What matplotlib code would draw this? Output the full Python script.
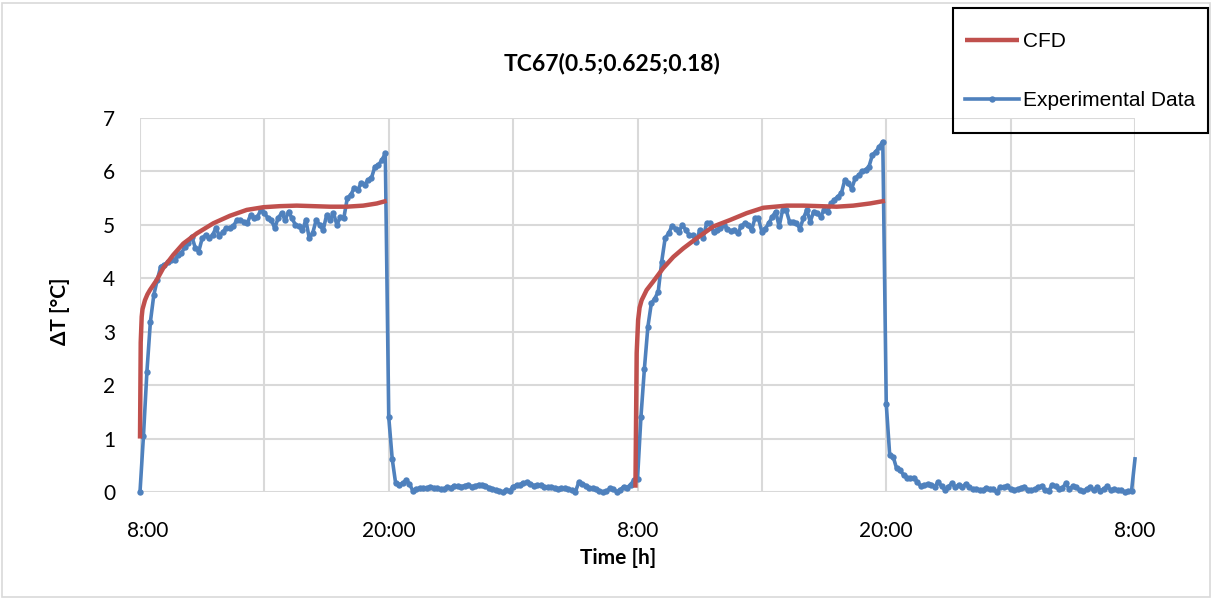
import numpy as np
import matplotlib
matplotlib.use("Agg")
import matplotlib.pyplot as plt
import matplotlib.transforms as mtransforms
from matplotlib.patches import Rectangle

# ---------------- data ----------------
title = "TC67(0.5;0.625;0.18)"
x_label = "Time [h]"
y_label = "ΔT [°C]"
x_ticks_h = [0, 6, 12, 18, 24, 30, 36, 42, 48]
x_tick_labels = ["8:00", "", "20:00", "", "8:00", "", "20:00", "", "8:00"]
y_ticks = [0, 1, 2, 3, 4, 5, 6, 7]

# experimental data, one value every 10 minutes from 8:00 on day 1
exp_day1 = [0.0, 1.05, 2.25, 3.18, 3.69, 3.97, 4.22, 4.25, 4.30, 4.34, 4.34, 4.43,
            4.47, 4.59, 4.66, 4.78, 4.57, 4.50, 4.75, 4.81, 4.75, 4.81, 4.94, 4.79,
            4.87, 4.94, 4.95, 4.97, 5.09, 5.09, 5.06, 5.03, 5.18, 5.13, 5.15, 5.28,
            5.22, 5.13, 5.09, 4.94, 5.13, 5.22, 5.09, 5.25, 5.12, 5.00, 4.97, 4.90,
            5.09, 4.75, 4.85, 5.09, 5.00, 4.90, 5.18, 5.09, 5.22, 5.00, 5.15, 5.13,
            5.50, 5.56, 5.69, 5.65, 5.78, 5.75, 5.84, 5.88, 6.09, 6.12, 6.21, 6.34]
exp_night1 = [1.40, 0.62, 0.16, 0.14, 0.16, 0.22, 0.15, 0.02, 0.06, 0.07, 0.08, 0.07,
              0.10, 0.08, 0.07, 0.05, 0.06, 0.09, 0.08, 0.12, 0.11, 0.10, 0.12, 0.13,
              0.10, 0.11, 0.14, 0.13, 0.12, 0.08, 0.06, 0.04, 0.02, 0.00, 0.03, 0.02,
              0.10, 0.13, 0.14, 0.17, 0.18, 0.15, 0.12, 0.13, 0.13, 0.10, 0.09, 0.10,
              0.08, 0.06, 0.07, 0.07, 0.05, 0.04, 0.00, 0.18, 0.15, 0.12, 0.08, 0.07,
              0.06, 0.02, 0.00, 0.01, 0.07, 0.06, 0.00, 0.04, 0.10, 0.08, 0.14, 0.22]
exp_day2 = [0.24, 1.41, 2.31, 3.09, 3.53, 3.62, 3.75, 4.31, 4.75, 4.84, 4.98, 4.93,
            4.87, 5.00, 4.90, 4.81, 4.81, 4.68, 4.90, 4.75, 5.03, 5.03, 4.87, 4.90,
            4.95, 5.00, 4.93, 4.88, 4.90, 4.84, 4.97, 5.03, 5.00, 4.90, 5.12, 5.12,
            4.87, 4.93, 5.03, 5.15, 5.25, 4.97, 5.28, 5.28, 5.06, 5.06, 5.03, 4.93,
            5.12, 5.28, 5.06, 5.25, 5.22, 5.15, 5.28, 5.25, 5.40, 5.47, 5.53, 5.59,
            5.84, 5.78, 5.68, 5.87, 5.93, 6.00, 6.03, 6.09, 6.31, 6.37, 6.46, 6.56]
exp_night2 = [1.65, 0.69, 0.66, 0.44, 0.41, 0.32, 0.27, 0.26, 0.27, 0.19, 0.11, 0.13,
              0.15, 0.14, 0.09, 0.19, 0.11, 0.04, 0.10, 0.16, 0.09, 0.13, 0.09, 0.15,
              0.09, 0.05, 0.05, 0.03, 0.03, 0.08, 0.05, 0.05, 0.00, 0.09, 0.09, 0.11,
              0.05, 0.04, 0.05, 0.08, 0.10, 0.03, 0.03, 0.05, 0.09, 0.11, 0.03, 0.02,
              0.13, 0.11, 0.05, 0.08, 0.16, 0.05, 0.11, 0.09, 0.03, 0.01, 0.05, 0.09,
              0.03, 0.09, 0.02, 0.06, 0.11, 0.03, 0.05, 0.04, 0.03, 0.00, 0.01, 0.02,
              0.62]
exp_step_h = 1.0 / 6.0

# CFD (hours since 8:00 day 1, value)
cfd1_t = [0.0, 0.034, 0.082, 0.12, 0.24, 0.36, 0.48, 0.81, 1.12, 1.61, 2.09, 2.74,
          3.54, 4.34, 5.15, 5.95, 6.75, 7.56, 8.36, 9.17, 9.97, 10.77, 11.42, 11.90]
cfd1_v = [1.00, 2.80, 3.28, 3.42, 3.59, 3.70, 3.78, 3.97, 4.19, 4.44, 4.65, 4.84,
          5.03, 5.17, 5.28, 5.33, 5.35, 5.36, 5.35, 5.34, 5.34, 5.36, 5.40, 5.45]
cfd2_t = [23.90, 23.93, 23.96, 24.03, 24.10, 24.20, 24.44, 24.76, 25.24, 25.73, 26.21,
          26.86, 27.66, 28.46, 29.27, 30.07, 31.20, 32.00, 32.80, 33.61, 34.41, 35.21, 35.94]
cfd2_v = [0.08, 1.35, 2.60, 3.22, 3.45, 3.59, 3.78, 3.94, 4.19, 4.40, 4.56,
          4.75, 4.97, 5.09, 5.22, 5.32, 5.36, 5.36, 5.35, 5.34, 5.36, 5.40, 5.45]

# ---------------- drawing ----------------
RED = "#C0504D"
BLUE = "#4F81BD"
GRID = "#D9D9D9"
FONT = ["Lato", "DejaVu Sans"]

W, H = 1212, 599
fig = plt.figure(figsize=(W / 100, H / 100), dpi=100)
fig.patch.set_facecolor("white")

# chart border
fig.patches.append(Rectangle((2 / W, 2 / H), (W - 4) / W, (H - 5) / H,
                             transform=fig.transFigure, fill=False,
                             edgecolor=GRID, linewidth=1.2))

ax = fig.add_axes([140 / W, 1 - 492 / H, 995 / W, 374 / H])
for s in ax.spines.values():
    s.set_visible(False)

exp_v = exp_day1 + exp_night1 + exp_day2 + exp_night2
exp_t = np.arange(len(exp_v)) * exp_step_h

ax.plot(exp_t, exp_v, color=BLUE, lw=2.6, marker="o", markersize=4.6,
        markeredgewidth=0, markevery=list(range(len(exp_v) - 1)),
        clip_on=False, zorder=3, label="Experimental Data")
ax.plot(cfd1_t, cfd1_v, color=RED, lw=3.2, solid_capstyle="butt",
        clip_on=False, zorder=4, label="CFD")
ax.plot(cfd2_t, cfd2_v, color=RED, lw=3.2, solid_capstyle="butt",
        clip_on=False, zorder=4)

ax.set_xlim(0, 48)
ax.set_ylim(0, 7)
ax.set_xticks(x_ticks_h)
ax.set_xticklabels(x_tick_labels)
ax.set_yticks(y_ticks)
ax.grid(True, color=GRID, lw=1.5, zorder=0)
ax.set_axisbelow(True)
ax.tick_params(axis="both", length=0, labelsize=15, colors="black")
ax.tick_params(axis="y", pad=18)
ax.tick_params(axis="x", pad=21)
for lab in ax.get_xticklabels() + ax.get_yticklabels():
    lab.set_family(FONT)
# the first category label sits a little to the right, as in the source chart
first = ax.get_xticklabels()[0]
first.set_transform(first.get_transform() +
                    mtransforms.ScaledTranslation(8 / 100, 0, fig.dpi_scale_trans))

fig.text(612 / W, 1 - 63 / H, title, ha="center", va="center",
         fontsize=16.5, fontweight="bold", family=FONT)
fig.text(618 / W, 1 - 558 / H, x_label, ha="center", va="center",
         fontsize=15, fontweight="bold", family=FONT)
fig.text(60 / W, 1 - 311 / H, y_label, ha="center", va="center", rotation=90,
         fontsize=15, fontweight="bold", family=FONT)

# legend
fig.patches.append(Rectangle((953 / W, 1 - 133 / H), 255 / W, 125 / H,
                             transform=fig.transFigure, fill=False,
                             edgecolor="black", linewidth=1.5, zorder=5))
h, l = ax.get_legend_handles_labels()
leg = fig.legend([h[1], h[0]], [l[1], l[0]], loc="center",
                 bbox_to_anchor=(1080 / W, 1 - 71 / H), frameon=False,
                 prop={"family": ["Liberation Sans", "DejaVu Sans"], "size": 15},
                 handlelength=2.6, handletextpad=0.2, labelspacing=1.9,
                 borderpad=0.0, markerscale=1.0)

fig.savefig("out.png", dpi=100)
